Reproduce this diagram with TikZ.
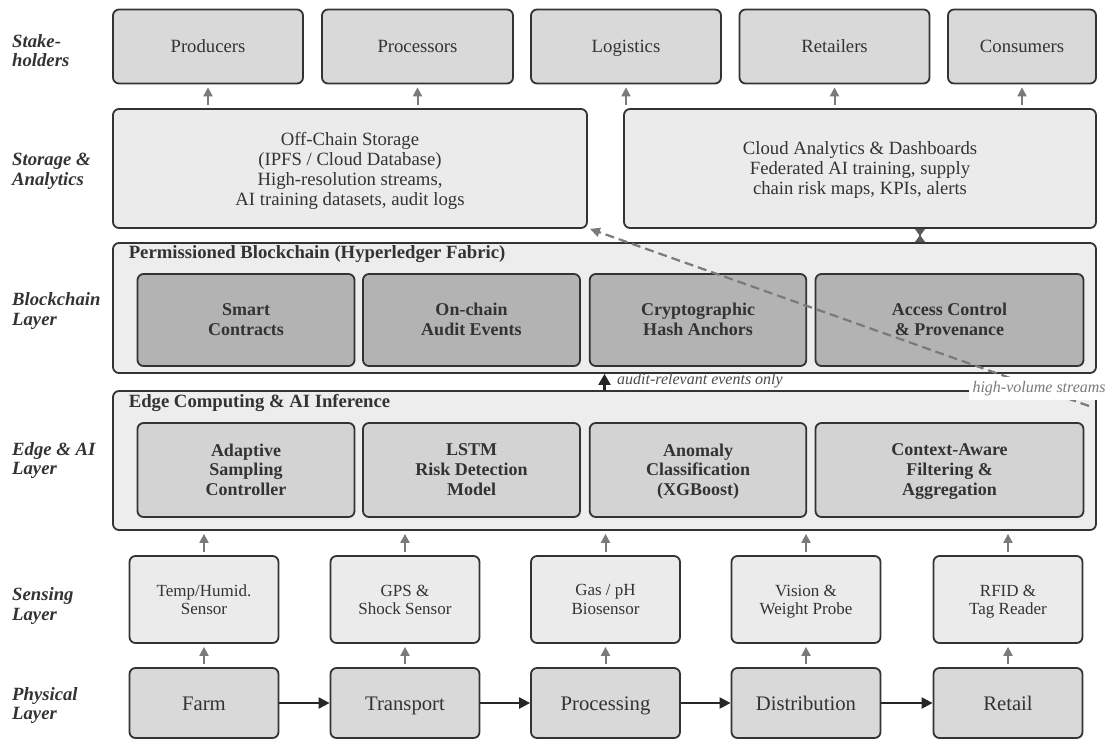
\documentclass[tikz,border=0pt]{standalone}
\usepackage{fontspec}
\setmainfont{Liberation Serif}
\usepackage{tikz}
\usetikzlibrary{arrows.meta, positioning, calc}
\definecolor{boxline}{HTML}{333333}
\definecolor{txt}{HTML}{333333}
\definecolor{stakefill}{HTML}{D9D9D9}
\definecolor{lightfill}{HTML}{EBEBEB}
\definecolor{layerfill}{HTML}{EDEDED}
\definecolor{chainfill}{HTML}{B3B3B3}
\definecolor{edgefill}{HTML}{D3D3D3}
\definecolor{arrowgray}{HTML}{7A7A7A}
\newcommand{\setfs}[2]{\fontsize{#1}{#2}\selectfont}

\begin{document}
\begin{tikzpicture}[
          x=1pt, y=-1pt,
          base/.style={draw=boxline, line width=1.8pt, rounded corners=6pt, text=txt,
                       align=center, inner sep=0pt},
          stake/.style={base, fill=stakefill, minimum height=74pt, text height=16.8pt, text depth=4.1pt,
                        font=\setfs{18.7}{20}},
          store/.style={base, fill=lightfill, minimum height=119pt, text depth=-2.9pt, font=\setfs{18.7}{20}},
          layer/.style={base, fill=layerfill, minimum width=983pt},
          chainbox/.style={base, fill=chainfill, minimum height=92pt, text depth=0.9pt,
                           font=\bfseries\setfs{18}{19.7}},
          edgebox/.style={base, fill=edgefill, minimum height=94pt, text depth=0.9pt,
                          font=\bfseries\setfs{18}{19.7}},
          sens/.style={base, fill=lightfill, minimum width=149pt, minimum height=87pt, text depth=-0.3pt,
                       font=\setfs{17}{18.3}},
          phys/.style={base, fill=stakefill, minimum width=149pt, minimum height=70pt,
                       text height=20.2pt, text depth=4.5pt, font=\setfs{20.7}{22}},
          lbl/.style={anchor=west, align=left, text=txt, inner sep=0pt,
                      font=\bfseries\itshape\setfs{18.7}{19.7}},
          ttl/.style={anchor=west, text=txt, inner sep=0pt, font=\bfseries\setfs{18.7}{20}},
          note/.style={inner sep=0pt, font=\itshape\setfs{16}{18}},
          upar/.style={draw=arrowgray, line width=2pt, -{Triangle[length=9pt,width=9pt]},
                       shorten <=3pt, shorten >=3pt},
          flow/.style={draw=black!85, line width=2.2pt, -{Triangle[length=11pt,width=11pt]}},
          dbl/.style={draw=black!65, line width=1.5pt,
                      {Triangle[reversed,length=7pt,width=10pt]}-{Triangle[reversed,length=7pt,width=10pt]}},
          hvol/.style={draw=arrowgray, line width=2.2pt, dash pattern=on 9pt off 5pt,
                       -{Triangle[length=10pt,width=9pt]}},
        ]
        \fill[white] (0,0) rectangle (1110,739);
        \useasboundingbox (0,0) rectangle (1110,739);

        \node[stake, minimum width=190pt] (prod) at (208,46.5) {Producers};
        \node[stake, minimum width=191pt] (proc) at (417.5,46.5) {Processors};
        \node[stake, minimum width=190pt] (logi) at (626,46.5) {Logistics};
        \node[stake, minimum width=190pt] (reta) at (834.5,46.5) {Retailers};
        \node[stake, minimum width=148pt] (cons) at (1022,46.5) {Consumers};

        \node[store, minimum width=474pt] (offch) at (350,168.5)
          {Off-Chain Storage\\(IPFS / Cloud Database)\\High-resolution streams,\\AI training datasets, audit logs};
        \node[store, minimum width=472pt] (cloud) at (860,168.5)
          {Cloud Analytics \& Dashboards\\Federated AI training, supply\\chain risk maps, KPIs, alerts};

        \node[layer, minimum height=130pt] (chain) at (604.5,308) {};
        \node[ttl] (chainttl) at (128.6,254.5) {Permissioned Blockchain (Hyperledger Fabric)};
        \node[chainbox, minimum width=217pt] (smart) at (246,320) {Smart\\Contracts};
        \node[chainbox, minimum width=217pt] (audit) at (471.5,320) {On-chain\\Audit Events};
        \node[chainbox, minimum width=216.5pt] (hash) at (698,320) {Cryptographic\\Hash Anchors};
        \node[chainbox, minimum width=268pt] (access) at (949.5,320) {Access Control\\\& Provenance};

        \node[layer, minimum height=139pt] (edge) at (604.5,460.5) {};
        \node[ttl] (edgettl) at (128.6,403) {Edge Computing \& AI Inference};
        \node[edgebox, minimum width=217pt] (adapt) at (246,470) {Adaptive\\Sampling\\Controller};
        \node[edgebox, minimum width=217pt] (lstm) at (471.5,470) {LSTM\\Risk Detection\\Model};
        \node[edgebox, minimum width=216.5pt] (anom) at (698,470) {Anomaly\\Classification\\(XGBoost)};
        \node[edgebox, minimum width=268pt] (ctx) at (949.5,470) {Context-Aware\\Filtering \&\\Aggregation};

        \node[sens] (temp) at (204,599.5) {Temp/Humid.\\Sensor};
        \node[sens] (gps) at (405,599.5) {GPS \&\\Shock Sensor};
        \node[sens] (gas) at (605.5,599.5) {Gas / pH\\Biosensor};
        \node[sens] (vis) at (806,599.5) {Vision \&\\Weight Probe};
        \node[sens] (rfid) at (1008,599.5) {RFID \&\\Tag Reader};

        \node[phys] (farm) at (204,703) {Farm};
        \node[phys] (trans) at (405,703) {Transport};
        \node[phys] (procg) at (605.5,703) {Processing};
        \node[phys] (dist) at (806,703) {Distribution};
        \node[phys] (retail) at (1008,703) {Retail};

        \node[lbl] (lstake) at (12,50.5) {Stake-\\holders};
        \node[lbl] (lstore) at (12,171) {Storage \&\\Analytics};
        \node[lbl] (lchain) at (12,311) {Blockchain\\Layer};
        \node[lbl] (ledge) at (12,460.5) {Edge \& AI\\Layer};
        \node[lbl] (lsens) at (12,606) {Sensing\\Layer};
        \node[lbl] (lphys) at (12,705.5) {Physical\\Layer};

        \draw[flow] (farm) -- (trans);
        \draw[flow] (trans) -- (procg);
        \draw[flow] (procg) -- (dist);
        \draw[flow] (dist) -- (retail);

        \draw[upar] (farm) -- (temp);
        \draw[upar] (trans) -- (gps);
        \draw[upar] (procg) -- (gas);
        \draw[upar] (dist) -- (vis);
        \draw[upar] (retail) -- (rfid);

        \draw[upar] (temp.north) -- (temp.north |- edge.south);
        \draw[upar] (gps.north) -- (gps.north |- edge.south);
        \draw[upar] (gas.north) -- (gas.north |- edge.south);
        \draw[upar] (vis.north) -- (vis.north |- edge.south);
        \draw[upar] (rfid.north) -- (rfid.north |- edge.south);

        \draw[flow, -{Triangle[length=11pt,width=12pt]}] (edge.north) -- (chain.south);
        \node[note, anchor=west, text=black!70] (auditlbl) at (617,381) {audit-relevant events only};

        \draw[dbl] ([xshift=60pt]cloud.south) -- ([xshift=60pt]cloud.south |- chain.north);

        \draw[upar] (prod.south |- offch.north) -- (prod.south);
        \draw[upar] (proc.south |- offch.north) -- (proc.south);
        \draw[upar] (logi.south |- cloud.north) -- (logi.south);
        \draw[upar] (reta.south |- cloud.north) -- (reta.south);
        \draw[upar] (cons.south |- cloud.north) -- (cons.south);

        \coordinate (hvsrc) at (1089,406);
        \draw[hvol] (hvsrc) -- node[pos=0.1, note, fill=white, inner sep=4pt, text=arrowgray] (hvlbl)
          {high-volume streams} ([xshift=2pt]offch.south east);
      \end{tikzpicture}
\end{document}
